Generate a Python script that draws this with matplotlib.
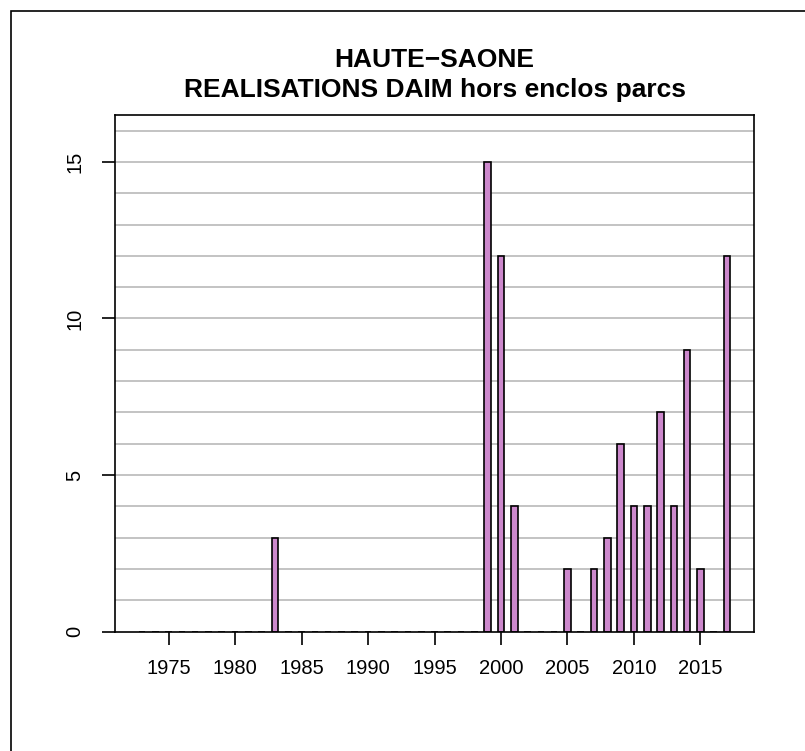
import matplotlib
matplotlib.use("Agg")
import matplotlib.pyplot as plt
from matplotlib.patches import Rectangle

years = list(range(1973, 2018))
values_by_year = {1983: 3, 1999: 15, 2000: 12, 2001: 4, 2005: 2, 2007: 2, 2008: 3,
                  2009: 6, 2010: 4, 2011: 4, 2012: 7, 2013: 4, 2014: 9, 2015: 2,
                  2017: 12}
values = [values_by_year.get(y, 0) for y in years]
xtick_years = [1975, 1980, 1985, 1990, 1995, 2000, 2005, 2010, 2015]
ytick_vals = [0, 5, 10, 15]
title_line1 = "HAUTE\u2212SAONE"
title_line2 = "REALISATIONS DAIM hors enclos parcs"

plt.rcParams['font.family'] = ['Liberation Sans', 'DejaVu Sans']

W, H = 805, 751
fig = plt.figure(figsize=(W / 100, H / 100), dpi=100)

# outer frame
fig.patches.append(Rectangle((11 / W, -0.1), 1.2, (H - 11) / H + 0.1,
                             transform=fig.transFigure, fill=False,
                             edgecolor='black', linewidth=1.2))

L, R_, T, B = 115, 754, 115, 631.5
ax = fig.add_axes([L / W, (H - B) / H, (R_ - L) / W, (B - T) / H])

bw = 0.5
span_lo = years[0] - bw / 2
span_hi = years[-1] + bw / 2
ext = 0.04 * (span_hi - span_lo)
ax.set_xlim(span_lo - ext, span_hi + ext)
ymax = max(values) * 1.1
ax.set_ylim(0, ymax)

for g in range(1, int(ymax) + 1):
    ax.axhline(g, color='#BEBEBE', linewidth=1.3, zorder=1)

ax.bar(years, values, width=bw, color='#CC88CC', edgecolor='black',
       linewidth=1.2, zorder=3)

ax.set_xticks(xtick_years)
ax.set_xticklabels([str(y) for y in xtick_years])
ax.set_yticks(ytick_vals)
ax.set_yticklabels([str(v) for v in ytick_vals], rotation=90, va='center')
ax.tick_params(axis='x', length=9, width=1.2, pad=11, labelsize=14.5)
ax.tick_params(axis='y', length=9.5, width=1.2, pad=12.5, labelsize=14.5)
for s in ax.spines.values():
    s.set_linewidth(1.2)
    s.set_zorder(4)

cx = (L + R_) / 2 / W
fig.text(cx, 1 - 67 / H, title_line1, ha='center', va='baseline',
         fontsize=19, fontweight='bold')
fig.text(cx, 1 - 97 / H, title_line2, ha='center', va='baseline',
         fontsize=19, fontweight='bold')

fig.savefig("out.png", dpi=100)
